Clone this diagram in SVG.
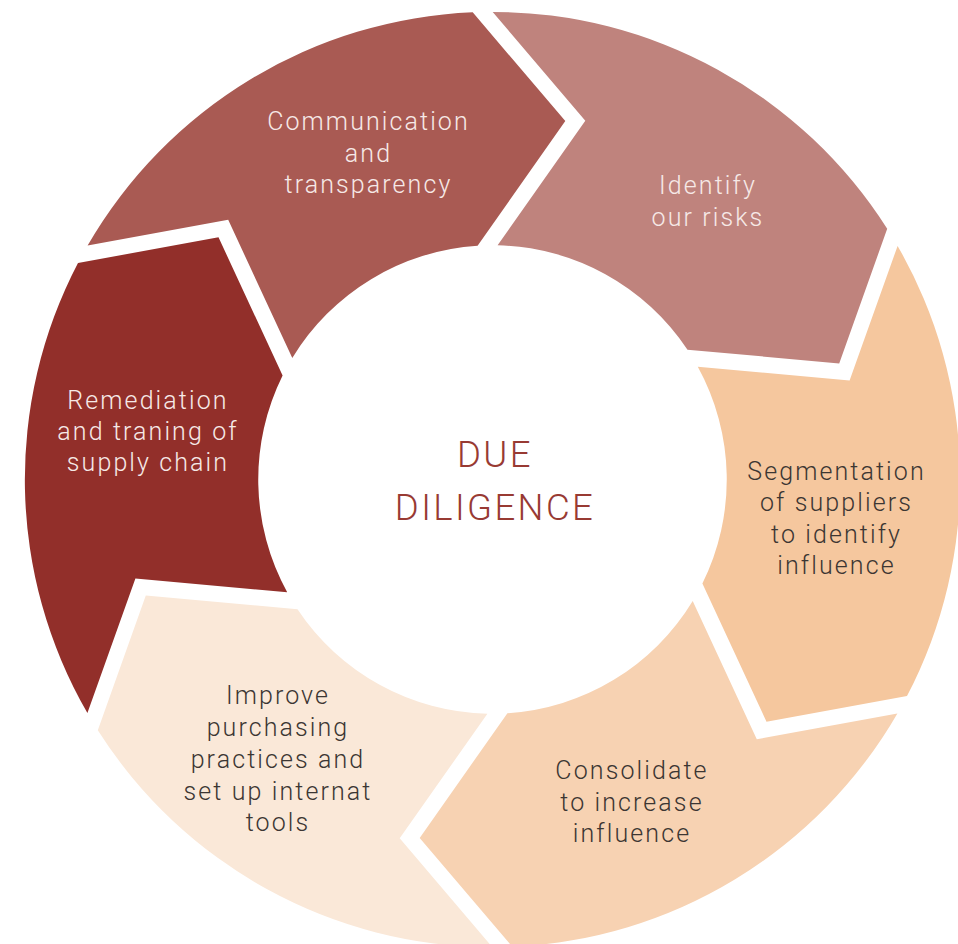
<svg xmlns="http://www.w3.org/2000/svg" width="958" height="944" viewBox="0 0 958 944">
<style>
.lbl{font-family:Roboto,"Liberation Sans",sans-serif;font-weight:300;font-size:25px;letter-spacing:2.1px;text-anchor:middle}
.lt{fill:#F6E9E7}
.dk{fill:#3C3633}
.ctr{font-family:Roboto,"Liberation Sans",sans-serif;font-weight:300;font-size:36.5px;letter-spacing:2.4px;text-anchor:middle;fill:#983A33}
</style>
<rect x="0" y="0" width="958" height="944" fill="#FFFFFF"/>
<g id="identify">
<path fill="#BF837D" d="M 492.7 11.9 L 585.3 120.7 L 497.6 245.3 A 234 234 0 0 1 687.5 349.7 L 839.2 363.4 L 887.2 228.8 A 467.5 467.5 0 0 0 492.7 11.9 Z"/>
<text class="lbl lt" x="708" y="194">Identify</text>
<text class="lbl lt" x="708" y="226">our risks</text>
</g>
<g id="segmentation">
<path fill="#F5C79E" d="M 897.6 245.9 L 849.6 380.5 L 697.8 366.8 A 234 234 0 0 1 702.4 583.5 L 766.5 721.7 L 907.0 696.0 A 467.5 467.5 0 0 0 897.6 245.9 Z"/>
<text class="lbl dk" x="836.5" y="479.5">Segmentation</text>
<text class="lbl dk" x="836.5" y="511">of suppliers</text>
<text class="lbl dk" x="836.5" y="542.5">to identify</text>
<text class="lbl dk" x="836.5" y="574">influence</text>
</g>
<g id="consolidate">
<path fill="#F7D2B2" d="M 897.4 713.5 L 756.8 739.2 L 692.7 601.0 A 234 234 0 0 1 507.4 713.2 L 419.7 837.9 L 512.3 946.7 A 467.5 467.5 0 0 0 897.4 713.5 Z"/>
<text class="lbl dk" x="632" y="779">Consolidate</text>
<text class="lbl dk" x="632" y="810.5">to increase</text>
<text class="lbl dk" x="632" y="842">influence</text>
</g>
<g id="improve">
<path fill="#FAE8D8" d="M 492.3 947.1 L 399.7 838.3 L 487.4 713.7 A 234 234 0 0 1 297.5 609.3 L 145.8 595.6 L 97.8 730.2 A 467.5 467.5 0 0 0 492.3 947.1 Z"/>
<text class="lbl dk" x="278" y="704">Improve</text>
<text class="lbl dk" x="278" y="736">purchasing</text>
<text class="lbl dk" x="278" y="768">practices and</text>
<text class="lbl dk" x="278" y="800">set up internat</text>
<text class="lbl dk" x="278" y="831">tools</text>
</g>
<g id="remediation">
<path fill="#922F2A" d="M 87.4 713.1 L 135.4 578.5 L 287.2 592.2 A 234 234 0 0 1 282.6 375.5 L 218.5 237.3 L 78.0 263.0 A 467.5 467.5 0 0 0 87.4 713.1 Z"/>
<text class="lbl lt" x="148" y="408.5">Remediation</text>
<text class="lbl lt" x="148" y="440">and traning of</text>
<text class="lbl lt" x="148" y="471">supply chain</text>
</g>
<g id="communication">
<path fill="#A95A53" d="M 87.6 245.5 L 228.2 219.8 L 292.3 358.0 A 234 234 0 0 1 477.6 245.8 L 565.3 121.1 L 472.7 12.3 A 467.5 467.5 0 0 0 87.6 245.5 Z"/>
<text class="lbl lt" x="368.5" y="130">Communication</text>
<text class="lbl lt" x="368.5" y="161.5">and</text>
<text class="lbl lt" x="368.5" y="193">transparency</text>
</g>
<g id="center">
<text class="ctr" x="495" y="466.5">DUE</text>
<text class="ctr" x="495" y="520">DILIGENCE</text>
</g>
<g id="connectors"></g>
</svg>
